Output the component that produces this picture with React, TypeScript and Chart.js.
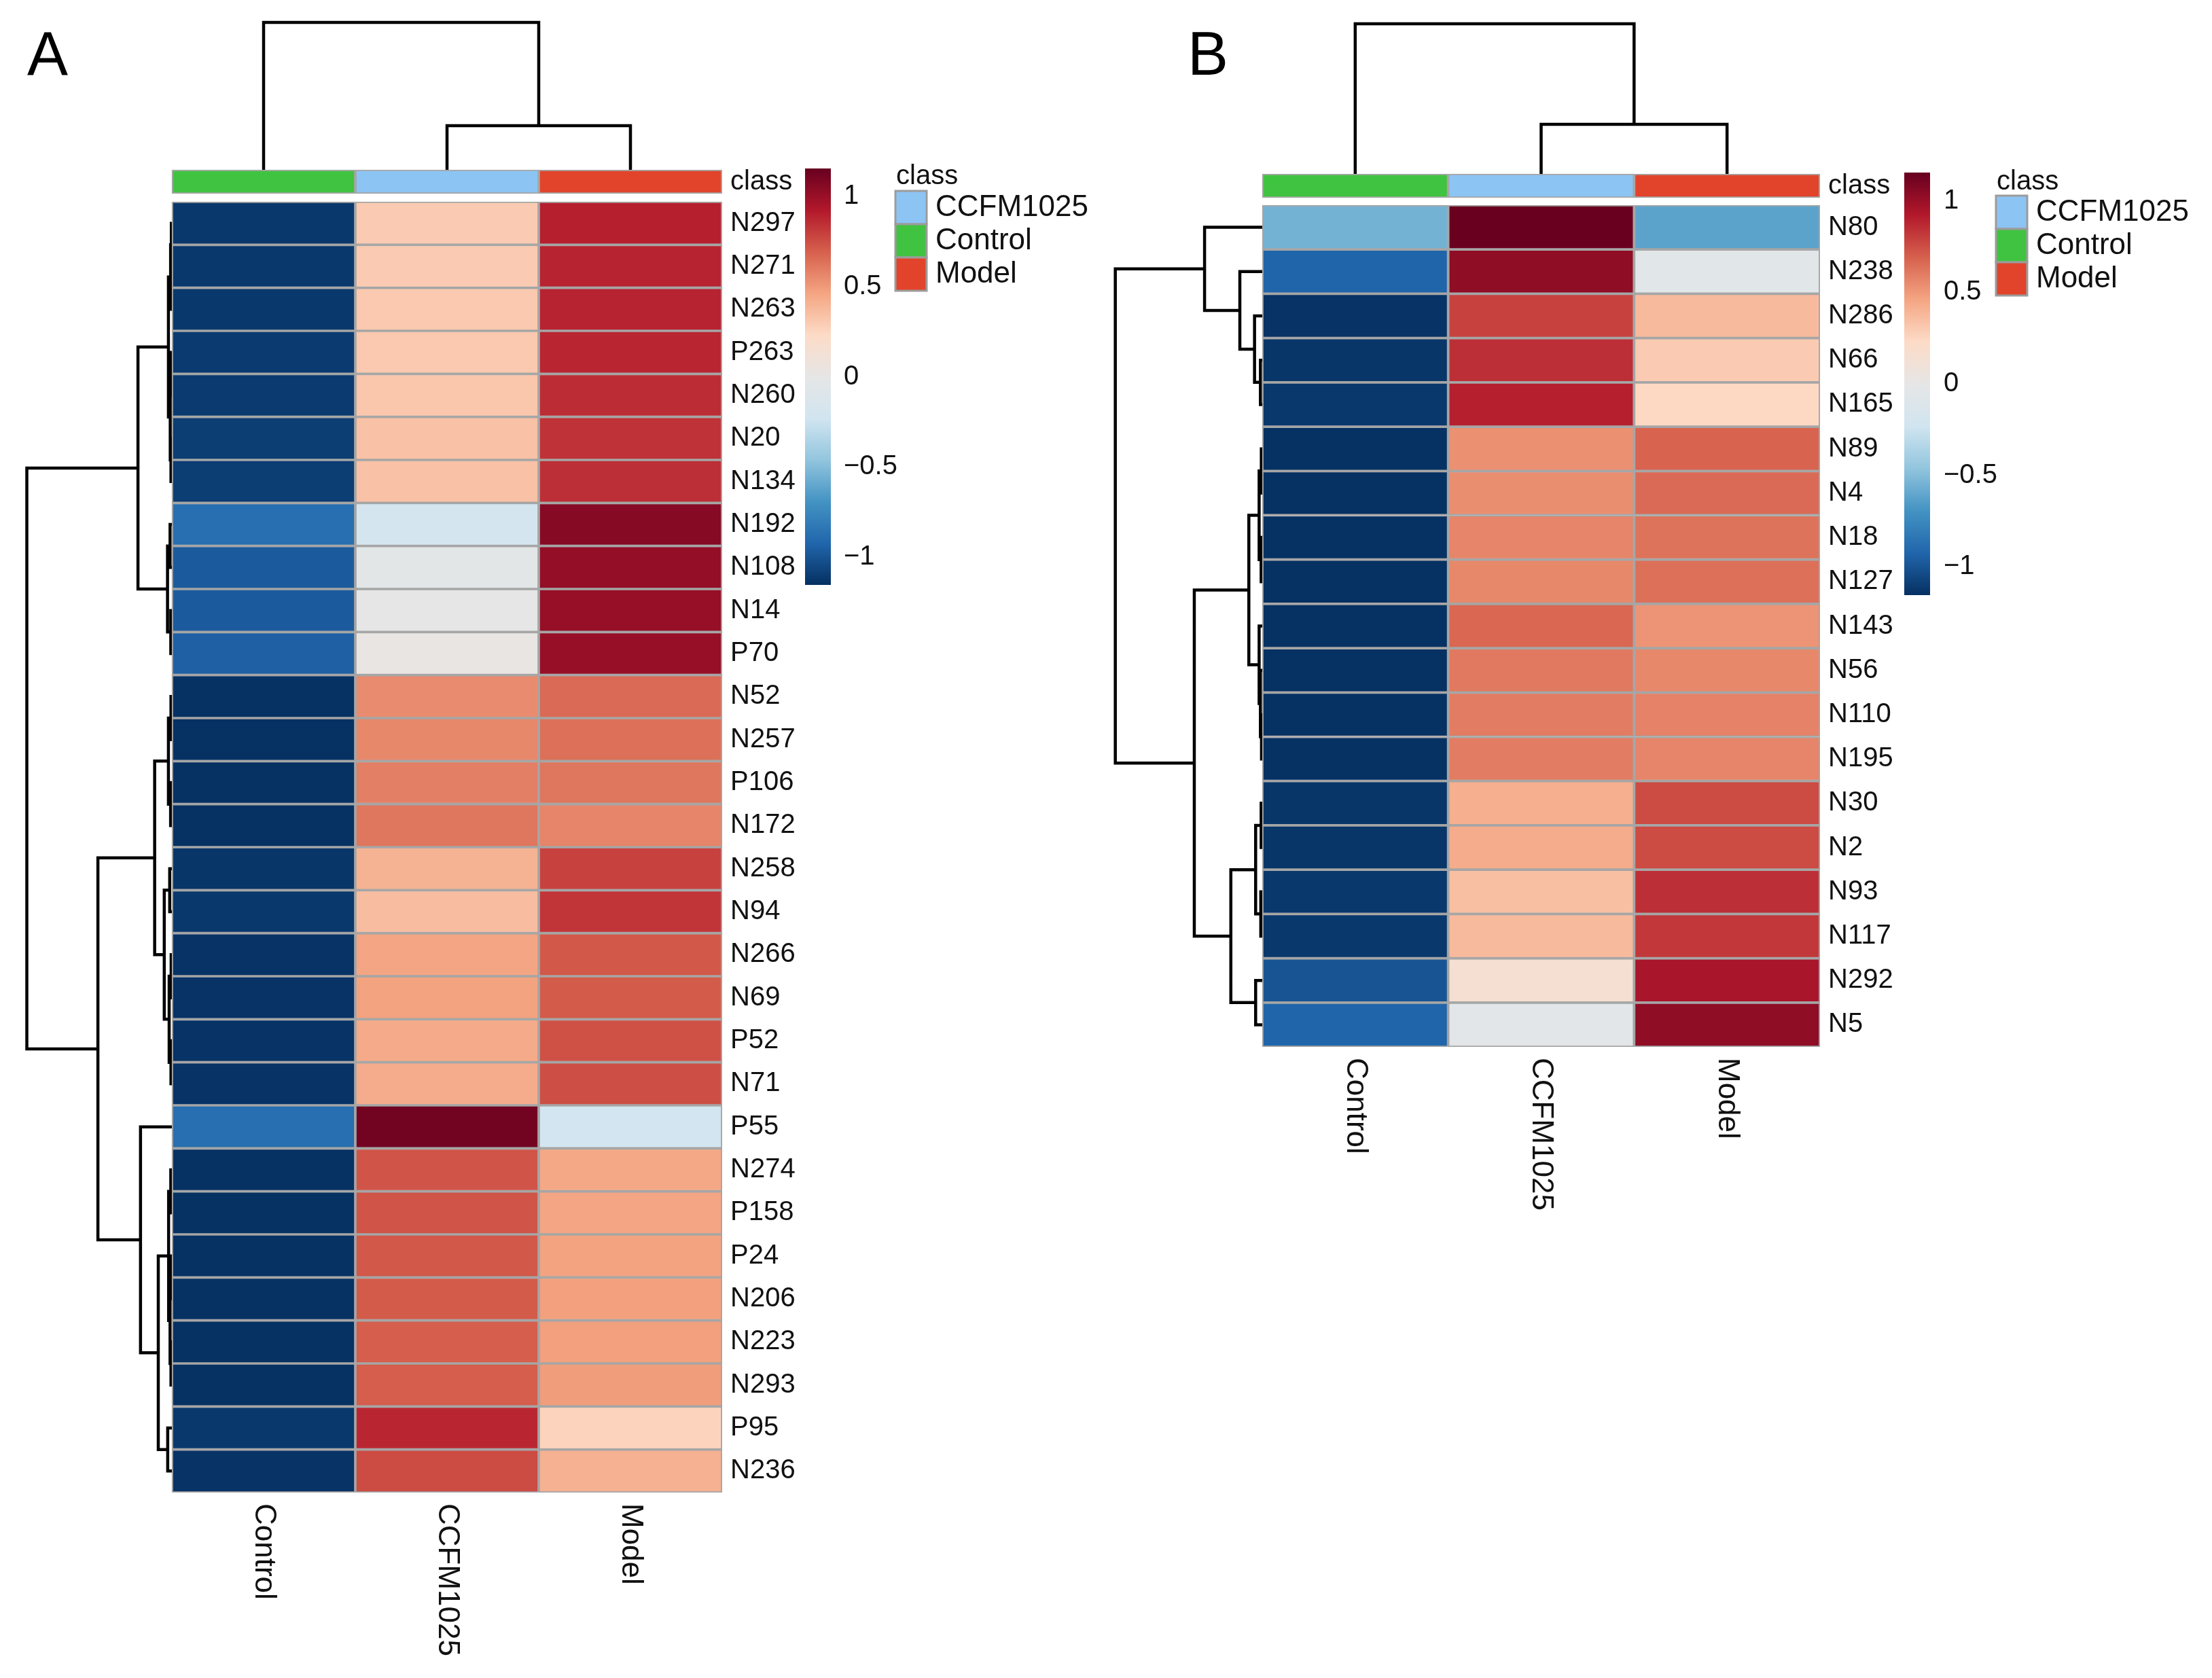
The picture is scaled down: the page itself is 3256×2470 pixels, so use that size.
import React, { useEffect, useRef } from "react";
import { Chart, registerables } from "chart.js";

Chart.register(...registerables);

const FONT = "'Liberation Sans', Arial, Helvetica, sans-serif";

// ---------------- data ----------------
const columns = ["Control", "CCFM1025", "Model"];
const classLevels = ["CCFM1025", "Control", "Model"];
const classColors = ["#8cc4f4", "#40c340", "#e1442b"];
const rdbu = ["#053061", "#2166AC", "#4393C3", "#92C5DE", "#D1E5F0", "#E6E6E6", "#FDDBC7", "#F4A582", "#D6604D", "#B2182B", "#67001F"];
const colorLimit = 1.1547;
const colorbarTicks = [-1, -0.5, 0, 0.5, 1];

const rowsA = ["N297", "N271", "N263", "P263", "N260", "N20", "N134", "N192", "N108", "N14", "P70", "N52", "N257", "P106", "N172", "N258", "N94", "N266", "N69", "P52", "N71", "P55", "N274", "P158", "P24", "N206", "N223", "N293", "P95", "N236"];
const controlA = [-1.12, -1.12, -1.12, -1.11, -1.11, -1.10, -1.10, -0.88, -0.97, -0.97, -0.95, -1.15, -1.15, -1.15, -1.15, -1.13, -1.12, -1.14, -1.14, -1.14, -1.14, -0.88, -1.15, -1.15, -1.15, -1.15, -1.15, -1.15, -1.12, -1.14];
const ccfmA = [0.30, 0.30, 0.31, 0.31, 0.32, 0.34, 0.34, -0.2, -0.03, 0.0, 0.03, 0.55, 0.56, 0.59, 0.62, 0.40, 0.36, 0.46, 0.47, 0.44, 0.43, 1.12, 0.73, 0.73, 0.72, 0.71, 0.70, 0.70, 0.88, 0.76];
const modelA = [0.90, 0.89, 0.89, 0.88, 0.86, 0.84, 0.85, 1.06, 1.02, 1.01, 1.01, 0.66, 0.64, 0.62, 0.57, 0.79, 0.83, 0.72, 0.71, 0.74, 0.75, -0.22, 0.45, 0.46, 0.47, 0.48, 0.48, 0.49, 0.26, 0.41];

const rowsB = ["N80", "N238", "N286", "N66", "N165", "N89", "N4", "N18", "N127", "N143", "N56", "N110", "N195", "N30", "N2", "N93", "N117", "N292", "N5"];
const controlB = [-0.55, -0.93, -1.14, -1.13, -1.12, -1.15, -1.15, -1.15, -1.15, -1.15, -1.15, -1.15, -1.15, -1.13, -1.13, -1.12, -1.12, -1.0, -0.93];
const ccfmB = [1.15, 1.03, 0.79, 0.85, 0.90, 0.53, 0.54, 0.57, 0.56, 0.67, 0.61, 0.60, 0.60, 0.42, 0.43, 0.35, 0.37, 0.15, -0.04];
const modelB = [-0.62, -0.06, 0.37, 0.30, 0.24, 0.68, 0.66, 0.63, 0.64, 0.52, 0.56, 0.58, 0.57, 0.76, 0.76, 0.85, 0.82, 0.95, 1.03];

// dendrograms: merge height, two children (leaf = row/column index)
type Node = number | { h: number; c: [Node, Node] };
const m = (h: number, a: Node, b: Node): Node => ({ h, c: [a, b] });

const rowTreeA: Node = m(8,
  m(1.87,
    m(0.19, m(0.07, m(0.03, 0, 1), 2), m(0.09, m(0.04, 3, 4), m(0.05, 5, 6))),
    m(0.24, m(0.1, 7, 8), m(0.06, 9, 10))),
  m(4.08,
    m(0.95,
      m(0.19, m(0.05, 11, 12), m(0.07, 13, 14)),
      m(0.42, m(0.12, 15, 16), m(0.15, m(0.04, 17, 18), m(0.05, 19, 20)))),
    m(1.73, 21,
      m(0.75,
        m(0.18, m(0.06, 22, 23), m(0.1, m(0.04, 24, 25), m(0.05, 26, 27))),
        m(0.23, 28, 29)))));
const colTreeA: Node = m(8, 0, m(2.4, 1, 2));

const rowTreeB: Node = m(8,
  m(3.14, 0, m(1.22, 1, m(0.42, 2, m(0.1, 3, 4)))),
  m(3.7,
    m(0.73,
      m(0.17, m(0.05, 5, 6), m(0.06, 7, 8)),
      m(0.17, 9, m(0.1, 10, m(0.04, 11, 12)))),
    m(1.71,
      m(0.36, m(0.06, 13, 14), m(0.08, 15, 16)),
      m(0.36, 17, 18))));
const colTreeB: Node = m(8, 0, m(2.64, 1, 2));

// ---------------- layout (page pixels) ----------------
const PAGE_W = 3256;
const PAGE_H = 2470;

interface MainLayout {
  left: number; width: number; areaL: number; areaT: number;
  heatL: number; heatR: number; heatT: number; heatB: number;
  classT: number; classB: number; rootX: number; rootY: number;
  letter: string; letterX: number; letterY: number;
}
const layoutA: MainLayout = {
  left: 0, width: 1260, areaL: 34, areaT: 26,
  heatL: 253, heatR: 1063, heatT: 297, heatB: 2197,
  classT: 250, classB: 285, rootX: 39.5, rootY: 33,
  letter: "A", letterX: 40, letterY: 110,
};
const layoutB: MainLayout = {
  left: 1620, width: 1260, areaL: 1636, areaT: 26,
  heatL: 1858, heatR: 2679, heatT: 302, heatB: 1541,
  classT: 256, classB: 291, rootX: 1641.7, rootY: 35,
  letter: "B", letterX: 1748, letterY: 110,
};

interface ScaleLayout {
  left: number; top: number; width: number; height: number;
  barL: number; barR: number; barT: number; barB: number; tickPad: number;
  titleX: number; titleY: number; boxX: number; boxY: number; boxW: number; boxH: number; labelX: number;
}
const scaleA: ScaleLayout = {
  left: 1150, top: 200, width: 470, height: 700,
  barL: 1185, barR: 1223, barT: 248, barB: 861, tickPad: 19,
  titleX: 1319, titleY: 271, boxX: 1318, boxY: 281, boxW: 46, boxH: 49, labelX: 1377,
};
const scaleB: ScaleLayout = {
  left: 2760, top: 200, width: 496, height: 720,
  barL: 2803, barR: 2841, barT: 254, barB: 876, tickPad: 20,
  titleX: 2939, titleY: 279, boxX: 2938, boxY: 288, boxW: 46, boxH: 49, labelX: 2997,
};

// ---------------- helpers ----------------
function hexToRgb(h: string) {
  const n = parseInt(h.slice(1), 16);
  return [(n >> 16) & 255, (n >> 8) & 255, n & 255];
}
function heatColor(v: number) {
  const t = Math.max(0, Math.min(1, (v + colorLimit) / (2 * colorLimit))) * (rdbu.length - 1);
  const k = Math.min(Math.floor(t), rdbu.length - 2);
  const f = t - k;
  const a = hexToRgb(rdbu[k]);
  const b = hexToRgb(rdbu[k + 1]);
  const c = a.map((x, i) => Math.round(x + (b[i] - x) * f));
  return `rgb(${c[0]},${c[1]},${c[2]})`;
}
function dendroPoints(tree: Node, map: (p: number, h: number) => { x: number; y: number }) {
  const pts: any[] = [];
  const walk = (n: Node): { p: number; h: number } => {
    if (typeof n === "number") return { p: n + 0.5, h: 0 };
    const a = walk(n.c[0]);
    const b = walk(n.c[1]);
    pts.push(map(a.p, a.h), map(a.p, n.h), map(b.p, n.h), map(b.p, b.h), { x: 0, y: null });
    return { p: (a.p + b.p) / 2, h: n.h };
  };
  walk(tree);
  return pts;
}
const fmtTick = (v: number) => (v < 0 ? "\u2212" + Math.abs(v) : String(v));

function mainChart(canvas: HTMLCanvasElement, rows: string[], vals: number[][], rowTree: Node, colTree: Node, L: MainLayout) {
  const colW = (L.heatR - L.heatL) / columns.length;
  const rowH = (L.heatB - L.heatT) / rows.length;
  const xMin = -(L.heatL - L.areaL) / colW;
  const yMin = -(L.heatT - L.areaT) / rowH;
  const toY = (py: number) => (py - L.heatT) / rowH;
  const classTop = toY(L.classT);
  const classBot = toY(L.classB);
  const dendW = (L.heatL - L.rootX) / colW;
  const topH = (L.classT - L.rootY) / rowH;
  const rootRow = (rowTree as any).h as number;
  const rootCol = (colTree as any).h as number;
  const leftPts = dendroPoints(rowTree, (p, h) => ({ x: (-h / rootRow) * dendW, y: p }));
  const topPts = dendroPoints(colTree, (p, h) => ({ x: p, y: classTop - (h / rootCol) * topH }));

  const cells: any[] = [];
  columns.forEach((name, j) => cells.push({ x: j + 0.5, y: [classTop, classBot], c: classColors[classLevels.indexOf(name)] }));
  rows.forEach((_, i) => vals.forEach((col, j) => cells.push({ x: j + 0.5, y: [i, i + 1], v: col[i] })));

  const tickVals = [(classTop + classBot) / 2, ...rows.map((_, i) => i + 0.5)];
  const tickLabels = ["class", ...rows];

  const lineDs = (data: any[]) => ({
    type: "line" as const, data, borderColor: "#000", borderWidth: 4.5, pointRadius: 0, pointHoverRadius: 0,
    spanGaps: false, clip: false as any, tension: 0, borderJoinStyle: "miter" as const, borderCapStyle: "square" as const, fill: false,
  });

  return new Chart(canvas, {
    type: "bar",
    data: {
      datasets: [
        {
          type: "bar",
          data: cells,
          backgroundColor: (ctx: any) => {
            const r = ctx.raw;
            if (!r) return "#ccc";
            return r.c ? r.c : heatColor(r.v);
          },
          borderColor: "#a6a6a6",
          borderWidth: 2.2,
          borderSkipped: false,
          barPercentage: 1,
          categoryPercentage: 1,
          grouped: false,
        } as any,
        lineDs(leftPts) as any,
        lineDs(topPts) as any,
      ],
    },
    options: {
      animation: false,
      responsive: false,
      devicePixelRatio: 1,
      events: [],
      indexAxis: "x",
      layout: { padding: { left: L.areaL - L.left, top: L.areaT, right: 0, bottom: PAGE_H - L.heatB } },
      plugins: { legend: { display: false }, tooltip: { enabled: false } },
      scales: {
        x: {
          type: "linear", min: xMin, max: columns.length, offset: false, display: false,
          afterBuildTicks: (s: any) => { s.ticks = columns.map((_, j) => ({ value: j + 0.5 })); },
        },
        y: {
          type: "linear", reverse: true, min: yMin, max: rows.length, position: "right", offset: false,
          grid: { display: false, drawTicks: false }, border: { display: false },
          ticks: {
            autoSkip: false, padding: 12, color: "#111", font: { family: FONT, size: 40 },
            callback: (_v: any, i: number) => tickLabels[i],
          },
          afterBuildTicks: (s: any) => { s.ticks = tickVals.map((value) => ({ value })); },
          afterFit: (s: any) => {
            s.width = L.left + L.width - L.heatR;
            s.paddingTop = 0;
            s.paddingBottom = 0;
          },
        },
      } as any,
    },
    plugins: [
      {
        id: "colLabels",
        afterDraw(chart: any) {
          const ctx = chart.ctx;
          const xs = chart.scales.x;
          ctx.save();
          ctx.fillStyle = "#111";
          ctx.font = `44px ${FONT}`;
          ctx.textAlign = "left";
          ctx.textBaseline = "middle";
          columns.forEach((name, j) => {
            const px = xs.getPixelForValue(j + 0.5);
            ctx.save();
            ctx.translate(px, chart.chartArea.bottom + 16);
            ctx.rotate(Math.PI / 2);
            ctx.fillText(name, 0, 0);
            ctx.restore();
          });
          ctx.font = `90px ${FONT}`;
          ctx.textBaseline = "alphabetic";
          ctx.fillStyle = "#000";
          ctx.fillText(L.letter, L.letterX - L.left, L.letterY);
          ctx.restore();
        },
      },
    ],
  } as any);
}

function scaleChart(canvas: HTMLCanvasElement, S: ScaleLayout) {
  return new Chart(canvas, {
    type: "bar",
    data: {
      labels: ["z"],
      datasets: [
        {
          data: [[-colorLimit, colorLimit]],
          backgroundColor: (ctx: any) => {
            const a = ctx.chart.chartArea;
            if (!a) return rdbu[5];
            const g = ctx.chart.ctx.createLinearGradient(0, a.bottom, 0, a.top);
            rdbu.forEach((c, k) => g.addColorStop(k / (rdbu.length - 1), c));
            return g;
          },
          borderWidth: 0,
          barPercentage: 1,
          categoryPercentage: 1,
        } as any,
      ],
    },
    options: {
      animation: false,
      responsive: false,
      devicePixelRatio: 1,
      events: [],
      layout: { padding: { left: S.barL - S.left, top: S.barT - S.top, right: 0, bottom: S.top + S.height - S.barB } },
      plugins: { legend: { display: false }, tooltip: { enabled: false } },
      scales: {
        x: { display: false },
        y: {
          position: "right", min: -colorLimit, max: colorLimit,
          grid: { display: false, drawTicks: false }, border: { display: false },
          ticks: { padding: S.tickPad, color: "#111", font: { family: FONT, size: 40 }, callback: (v: any) => fmtTick(Number(v)) },
          afterBuildTicks: (s: any) => { s.ticks = colorbarTicks.map((value) => ({ value })); },
          afterFit: (s: any) => {
            s.width = S.left + S.width - S.barR;
            s.paddingTop = 0;
            s.paddingBottom = 0;
          },
        },
      } as any,
    },
    plugins: [
      {
        id: "classLegend",
        afterDraw(chart: any) {
          const ctx = chart.ctx;
          const ox = S.left;
          const oy = S.top;
          ctx.save();
          ctx.fillStyle = "#111";
          ctx.font = `40px ${FONT}`;
          ctx.textAlign = "left";
          ctx.textBaseline = "alphabetic";
          ctx.fillText("class", S.titleX - ox, S.titleY - oy);
          classLevels.forEach((name, k) => {
            const y = S.boxY - oy + k * S.boxH;
            ctx.fillStyle = classColors[k];
            ctx.fillRect(S.boxX - ox, y, S.boxW, S.boxH);
            ctx.strokeStyle = "#9c9c9c";
            ctx.lineWidth = 3;
            ctx.strokeRect(S.boxX - ox, y, S.boxW, S.boxH);
            ctx.fillStyle = "#111";
            ctx.font = `44px ${FONT}`;
            ctx.textBaseline = "middle";
            ctx.fillText(name, S.labelX - ox, y + S.boxH / 2);
          });
          ctx.restore();
        },
      },
    ],
  } as any);
}

export default function App() {
  const aMain = useRef<HTMLCanvasElement>(null);
  const bMain = useRef<HTMLCanvasElement>(null);
  const aScale = useRef<HTMLCanvasElement>(null);
  const bScale = useRef<HTMLCanvasElement>(null);

  useEffect(() => {
    document.body.style.margin = "0";
    Chart.defaults.font.family = FONT;
    const charts = [
      mainChart(aMain.current!, rowsA, [controlA, ccfmA, modelA], rowTreeA, colTreeA, layoutA),
      mainChart(bMain.current!, rowsB, [controlB, ccfmB, modelB], rowTreeB, colTreeB, layoutB),
      scaleChart(aScale.current!, scaleA),
      scaleChart(bScale.current!, scaleB),
    ];
    return () => charts.forEach((c) => c.destroy());
  }, []);

  const cv = (ref: any, left: number, top: number, w: number, h: number) => (
    <canvas ref={ref} width={w} height={h} style={{ position: "absolute", left, top, width: w, height: h }} />
  );

  return (
    <div style={{ position: "relative", width: PAGE_W, height: PAGE_H, background: "#fff", overflow: "hidden" }}>
      {cv(aMain, layoutA.left, 0, layoutA.width, PAGE_H)}
      {cv(bMain, layoutB.left, 0, layoutB.width, PAGE_H)}
      {cv(aScale, scaleA.left, scaleA.top, scaleA.width, scaleA.height)}
      {cv(bScale, scaleB.left, scaleB.top, scaleB.width, scaleB.height)}
    </div>
  );
}
